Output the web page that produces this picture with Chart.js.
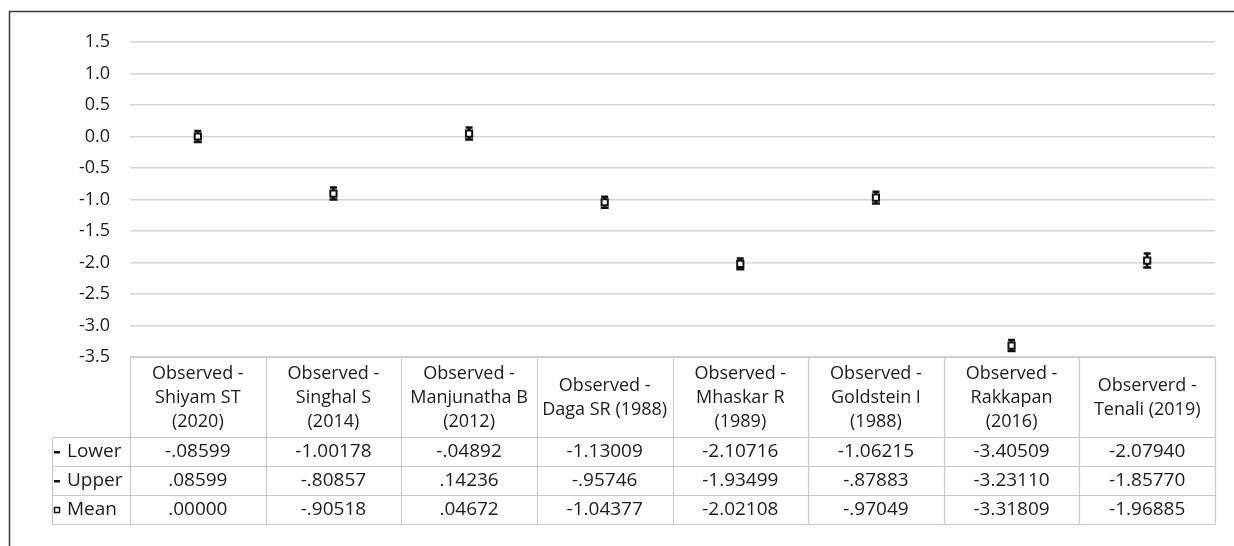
<!DOCTYPE html>
<html>
<head>
<meta charset="utf-8">
<script src="https://cdn.jsdelivr.net/npm/chart.js@4"></script>
<style>
  html, body {margin: 0; padding: 0; background: #fff;}
  #wrap {position: relative; width: 1234px; height: 546px;}
</style>
</head>
<body>
<div id="wrap"><canvas id="graph"></canvas></div>
<script>
const categories = [
  ['Observed -', 'Shiyam ST', '(2020)'],
  ['Observed -', 'Singhal S', '(2014)'],
  ['Observed -', 'Manjunatha B', '(2012)'],
  ['Observed -', 'Daga SR (1988)'],
  ['Observed -', 'Mhaskar R', '(1989)'],
  ['Observed -', 'Goldstein I', '(1988)'],
  ['Observed -', 'Rakkapan', '(2016)'],
  ['Observerd -', 'Tenali (2019)']
];
const lower = [-0.08599, -1.00178, -0.04892, -1.13009, -2.10716, -1.06215, -3.40509, -2.07940];
const upper = [0.08599, -0.80857, 0.14236, -0.95746, -1.93499, -0.87883, -3.23110, -1.85770];
const mean = [0.00000, -0.90518, 0.04672, -1.04377, -2.02108, -0.97049, -3.31809, -1.96885];
const rowNames = ['Lower', 'Upper', 'Mean'];

const ink = '#1c1c1c';
const font = '"Open Sans", sans-serif';

function fmt(v){
  // excel style: no leading zero
  return v.toFixed(5).replace(/^(-?)0\./, '$1.');
}

// draws the frame and the data table under the plot
const tablePlugin = {
  id: 'table',
  beforeDraw(chart){
    const ctx = chart.ctx;
    ctx.save();
    ctx.strokeStyle = '#3a3a3a';
    ctx.lineWidth = 1.5;
    ctx.beginPath();
    ctx.moveTo(9.5, 546);
    ctx.lineTo(9.5, 11.5);
    ctx.lineTo(1234, 11.5);
    ctx.stroke();
    ctx.restore();
  },
  afterDraw(chart){
    const ctx = chart.ctx;
    const x = chart.scales.x;
    const area = chart.chartArea;
    const top = Math.round(area.bottom) + 0.5;
    const headBottom = top + 80;
    const rowH = 29;
    const bottom = headBottom + rowH * 3;
    const labelLeft = 52.5;

    let edges = [area.left];
    for(let i=1; i<categories.length; i++){
      edges.push((x.getPixelForValue(i-1) + x.getPixelForValue(i)) / 2);
    }
    edges.push(area.right);
    edges = edges.map(e => Math.round(e) + 0.5);

    ctx.save();
    ctx.strokeStyle = '#c9c9c9';
    ctx.lineWidth = 1.2;
    ctx.beginPath();
    ctx.moveTo(edges[0], top); ctx.lineTo(edges[edges.length-1], top);
    for(let r=0; r<4; r++){
      const y = headBottom + r*rowH;
      ctx.moveTo(labelLeft, y); ctx.lineTo(edges[edges.length-1], y);
    }
    edges.forEach(e => { ctx.moveTo(e, top); ctx.lineTo(e, bottom); });
    ctx.moveTo(labelLeft, headBottom); ctx.lineTo(labelLeft, bottom);
    ctx.stroke();

    ctx.fillStyle = ink;
    ctx.textAlign = 'center';
    ctx.textBaseline = 'middle';

    // header cells
    ctx.font = '18px ' + font;
    categories.forEach((lines, i) => {
      const cx = x.getPixelForValue(i);
      const mid = (top + headBottom) / 2;
      lines.forEach((t, j) => {
        ctx.fillText(t, cx, mid + (j - (lines.length-1)/2) * 24);
      });
    });

    // value rows
    ctx.font = '19px ' + font;
    const rows = [lower, upper, mean];
    rows.forEach((vals, r) => {
      const cy = headBottom + r*rowH + rowH/2;
      vals.forEach((v, i) => ctx.fillText(fmt(v), x.getPixelForValue(i), cy));
    });

    // row labels with legend keys
    ctx.textAlign = 'left';
    rowNames.forEach((name, r) => {
      const cy = headBottom + r*rowH + rowH/2;
      ctx.fillText(name, 67, cy);
      if(r < 2){
        ctx.fillStyle = '#111';
        ctx.fillRect(54, cy - 1, 6, 2.5);
      } else {
        ctx.strokeStyle = '#111';
        ctx.lineWidth = 1.5;
        ctx.fillStyle = '#fff';
        ctx.fillRect(54.5, cy - 2.5, 5, 5);
        ctx.strokeRect(54.5, cy - 2.5, 5, 5);
      }
      ctx.fillStyle = ink;
    });
    ctx.restore();
  }
};

window.onload = function(){
  const labels = categories.map(c => c.join(' '));

  const config = {
    type: 'bar',
    data: {
      labels: labels,
      datasets: [
        {
          label: 'Range',
          data: lower.map((v, i) => [v, upper[i]]),
          backgroundColor: '#111',
          barThickness: 2,
          order: 3
        },
        {
          type: 'line',
          label: 'Lower',
          data: lower,
          showLine: false,
          pointStyle: 'line',
          pointRadius: 4,
          borderColor: '#111',
          pointBorderWidth: 2.5,
          order: 2
        },
        {
          type: 'line',
          label: 'Upper',
          data: upper,
          showLine: false,
          pointStyle: 'line',
          pointRadius: 3.5,
          borderColor: '#111',
          pointBorderWidth: 2.5,
          order: 1
        },
        {
          type: 'line',
          label: 'Mean',
          data: mean,
          showLine: false,
          pointStyle: 'rect',
          pointRadius: 4.4,
          borderColor: '#111',
          pointBackgroundColor: '#fff',
          pointBorderWidth: 2,
          order: 0
        }
      ]
    },
    options: {
      responsive: true,
      maintainAspectRatio: false,
      animation: false,
      events: [],
      layout: {padding: {top: 42, right: 19, bottom: 189, left: 0}},
      plugins: {
        legend: {display: false},
        tooltip: {enabled: false}
      },
      scales: {
        x: {
          display: false,
          offset: true
        },
        y: {
          min: -3.5,
          max: 1.5,
          afterFit: s => { s.width = 130; },
          border: {display: false},
          grid: {color: '#d4d4d4', lineWidth: 1.5, drawTicks: false},
          ticks: {
            stepSize: 0.5,
            padding: 20,
            color: ink,
            font: {family: font, size: 18},
            callback: v => v.toFixed(1)
          }
        }
      }
    },
    plugins: [tablePlugin]
  };

  new Chart(document.getElementById('graph').getContext('2d'), config);
};
</script>
</body>
</html>
